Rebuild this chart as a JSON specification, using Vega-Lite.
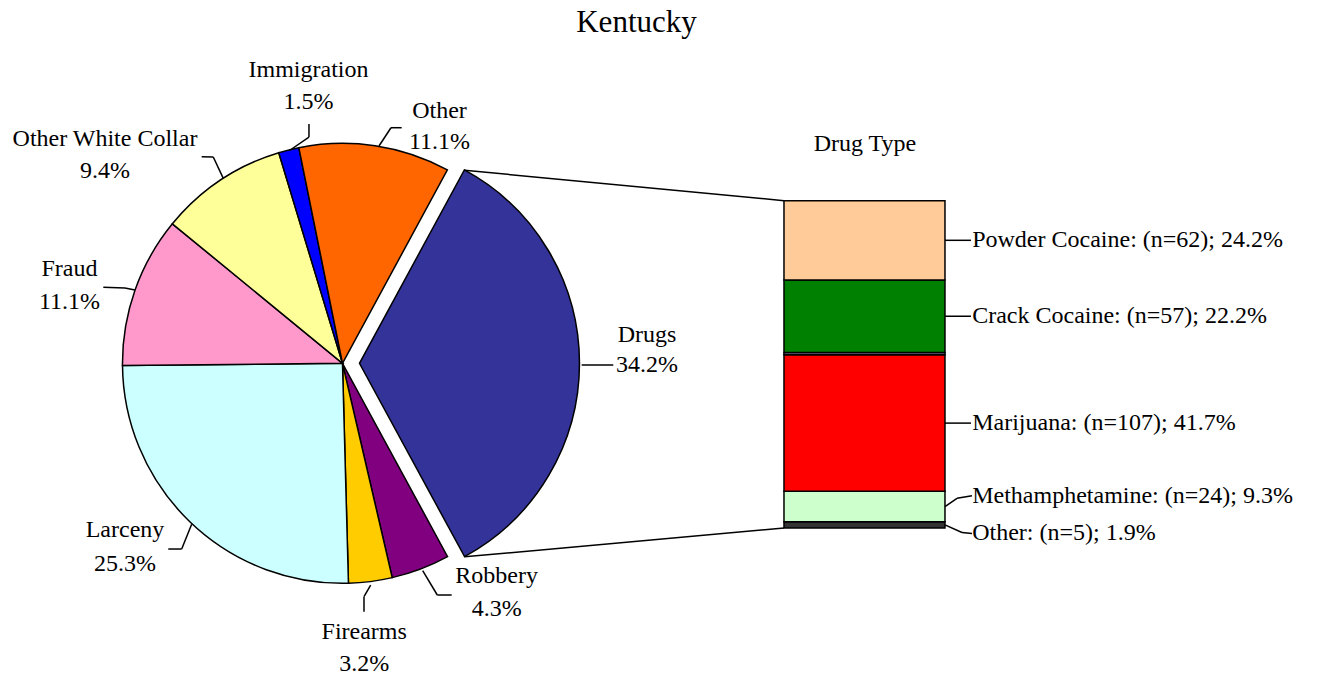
{
  "$schema": "https://vega.github.io/schema/vega-lite/v6.json",
  "width": 1320,
  "height": 675,
  "padding": 0,
  "autosize": {"type": "none"},
  "title": {"text": "Kentucky", "font": "Liberation Serif", "fontSize": 31, "fontWeight": "normal", "color": "black", "frame": "group", "anchor": "middle", "baseline": "alphabetic", "offset": -33.3, "dx": -23.5, "dy": 30},
  "config": {"view": {"stroke": null}, "font": "Liberation Serif", "text": {"font": "Liberation Serif", "fontSize": 24, "color": "black"}},
  "datasets": {
    "pie": [
      {"cat": "Drugs", "pct": 34.2, "ord": 1, "label": "Drugs\n34.2%"},
      {"cat": "Robbery", "pct": 4.3, "ord": 2, "label": "Robbery\n4.3%"},
      {"cat": "Firearms", "pct": 3.2, "ord": 3, "label": "Firearms\n3.2%"},
      {"cat": "Larceny", "pct": 25.3, "ord": 4, "label": "Larceny\n25.3%"},
      {"cat": "Fraud", "pct": 11.1, "ord": 5, "label": "Fraud\n11.1%"},
      {"cat": "Other White Collar", "pct": 9.4, "ord": 6, "label": "Other White Collar\n9.4%"},
      {"cat": "Immigration", "pct": 1.5, "ord": 7, "label": "Immigration\n1.5%"},
      {"cat": "Other", "pct": 11.1, "ord": 8, "label": "Other\n11.1%"}
    ],
    "drugs": [
      {"drug": "Other", "n": 5, "pct": 1.9, "ord": 1, "label": "Other: (n=5); 1.9%"},
      {"drug": "Methamphetamine", "n": 24, "pct": 9.3, "ord": 2, "label": "Methamphetamine: (n=24); 9.3%"},
      {"drug": "Marijuana", "n": 107, "pct": 41.7, "ord": 3, "label": "Marijuana: (n=107); 41.7%"},
      {"drug": "Heroin", "n": 2, "pct": 0.7, "ord": 4, "label": ""},
      {"drug": "Crack Cocaine", "n": 57, "pct": 22.2, "ord": 5, "label": "Crack Cocaine: (n=57); 22.2%"},
      {"drug": "Powder Cocaine", "n": 62, "pct": 24.2, "ord": 6, "label": "Powder Cocaine: (n=62); 24.2%"}
    ]
  },
  "resolve": {"scale": {"color": "independent"}},
  "layer": [
    {
      "data": {"name": "pie"},
      "mark": {"type": "arc", "radius": 220, "stroke": "black", "strokeWidth": 1.5},
      "encoding": {
        "x": {"datum": -134.89, "type": "quantitative", "axis": null, "scale": {"domain": [-239.53, 163.77], "nice": false, "zero": false}},
        "y": {"datum": 50.32, "type": "quantitative", "axis": null, "scale": {"domain": [-44.91, 161.32], "nice": false, "zero": false}},
        "theta": {"field": "pct", "type": "quantitative", "stack": "zero", "scale": {"range": [0.497, 6.7802]}},
        "order": {"field": "ord", "type": "quantitative"},
        "color": {"field": "cat", "type": "nominal", "legend": null, "scale": {"domain": ["Drugs", "Robbery", "Firearms", "Larceny", "Fraud", "Other White Collar", "Immigration", "Other"], "range": ["#333399", "#800080", "#FFCC00", "#CCFFFF", "#FF99CC", "#FFFF99", "#0000FF", "#FF6600"]}},
        "opacity": {"condition": {"test": "datum.cat === 'Drugs'", "value": 0}, "value": 1}
      }
    },
    {
      "data": {"name": "pie"},
      "mark": {"type": "arc", "radius": 220, "stroke": "black", "strokeWidth": 1.5},
      "encoding": {
        "x": {"datum": -129.70, "type": "quantitative", "axis": null},
        "y": {"datum": 50.32, "type": "quantitative", "axis": null},
        "theta": {"field": "pct", "type": "quantitative", "stack": "zero"},
        "order": {"field": "ord", "type": "quantitative"},
        "color": {"field": "cat", "type": "nominal", "legend": null, "scale": {"domain": ["Drugs", "Robbery", "Firearms", "Larceny", "Fraud", "Other White Collar", "Immigration", "Other"], "range": ["#333399", "#800080", "#FFCC00", "#CCFFFF", "#FF99CC", "#FFFF99", "#0000FF", "#FF6600"]}},
        "opacity": {"condition": {"test": "datum.cat === 'Drugs'", "value": 1}, "value": 0}
      }
    },
    {
      "data": {"name": "drugs"},
      "transform": [{"stack": "pct", "groupby": [], "sort": [{"field": "ord", "order": "ascending"}], "as": ["p0", "p1"]}],
      "mark": {"type": "bar", "stroke": "black", "strokeWidth": 1.5},
      "encoding": {
        "x": {"datum": 0, "type": "quantitative", "axis": null},
        "x2": {"datum": 49.19},
        "y": {"field": "p0", "type": "quantitative", "axis": null, "stack": null},
        "y2": {"field": "p1"},
        "color": {"field": "drug", "type": "nominal", "legend": null, "scale": {"domain": ["Other", "Methamphetamine", "Marijuana", "Heroin", "Crack Cocaine", "Powder Cocaine"], "range": ["#333333", "#CCFFCC", "#FF0000", "#8080A0", "#008000", "#FFCC99"]}}
      }
    },
    {
      "data": {"name": "drugs"},
      "mark": {"type": "text", "align": "left", "baseline": "middle", "fontSize": 24},
      "encoding": {
        "x": {"datum": 57.5, "type": "quantitative", "axis": null},
        "y": {"field": "pct", "type": "quantitative", "axis": null, "stack": "zero", "bandPosition": 0.5},
        "detail": {"field": "drug"},
        "order": {"field": "ord", "type": "quantitative"},
        "text": {"condition": {"test": "indexof(['Powder Cocaine','Crack Cocaine','Marijuana'], datum.drug) >= 0", "field": "label"}, "value": ""}
      }
    },
    {
      "data": {"name": "drugs"},
      "mark": {"type": "text", "align": "left", "baseline": "middle", "fontSize": 24, "dy": -10.9},
      "encoding": {
        "x": {"datum": 57.5, "type": "quantitative", "axis": null},
        "y": {"field": "pct", "type": "quantitative", "axis": null, "stack": "zero", "bandPosition": 0.5},
        "detail": {"field": "drug"},
        "order": {"field": "ord", "type": "quantitative"},
        "text": {"condition": {"test": "datum.drug === 'Methamphetamine'", "field": "label"}, "value": ""}
      }
    },
    {
      "data": {"name": "drugs"},
      "mark": {"type": "text", "align": "left", "baseline": "middle", "fontSize": 24, "dy": 8.6},
      "encoding": {
        "x": {"datum": 57.5, "type": "quantitative", "axis": null},
        "y": {"field": "pct", "type": "quantitative", "axis": null, "stack": "zero", "bandPosition": 0.5},
        "detail": {"field": "drug"},
        "order": {"field": "ord", "type": "quantitative"},
        "text": {"condition": {"test": "datum.drug === 'Other'", "field": "label"}, "value": ""}
      }
    },
    {
      "data": {"values": [{}]},
      "mark": {"type": "text", "align": "center", "baseline": "alphabetic", "fontSize": 24},
      "encoding": {
        "x": {"datum": 24.75, "type": "quantitative", "axis": null},
        "y": {"datum": 115.28, "type": "quantitative", "axis": null},
        "text": {"value": "Drug Type"}
      }
    },
    {"data": {"name": "pie"}, "transform": [{"filter": "datum.cat === 'Immigration'"}], "mark": {"type": "text", "align": "center", "baseline": "alphabetic", "fontSize": 24, "lineBreak": "\n", "lineHeight": 32.6}, "encoding": {"x": {"datum": -145.28, "type": "quantitative", "axis": null}, "y": {"datum": 137.89, "type": "quantitative", "axis": null}, "text": {"field": "label"}}},
    {"data": {"name": "pie"}, "transform": [{"filter": "datum.cat === 'Other'"}], "mark": {"type": "text", "align": "center", "baseline": "alphabetic", "fontSize": 24, "lineBreak": "\n", "lineHeight": 31}, "encoding": {"x": {"datum": -105.26, "type": "quantitative", "axis": null}, "y": {"datum": 125.18, "type": "quantitative", "axis": null}, "text": {"field": "label"}}},
    {"data": {"name": "pie"}, "transform": [{"filter": "datum.cat === 'Other White Collar'"}], "mark": {"type": "text", "align": "center", "baseline": "alphabetic", "fontSize": 24, "lineBreak": "\n", "lineHeight": 32.6}, "encoding": {"x": {"datum": -207.45, "type": "quantitative", "axis": null}, "y": {"datum": 116.80, "type": "quantitative", "axis": null}, "text": {"field": "label"}}},
    {"data": {"name": "pie"}, "transform": [{"filter": "datum.cat === 'Fraud'"}], "mark": {"type": "text", "align": "center", "baseline": "alphabetic", "fontSize": 24, "lineBreak": "\n", "lineHeight": 33}, "encoding": {"x": {"datum": -218.30, "type": "quantitative", "axis": null}, "y": {"datum": 76.99, "type": "quantitative", "axis": null}, "text": {"field": "label"}}},
    {"data": {"name": "pie"}, "transform": [{"filter": "datum.cat === 'Larceny'"}], "mark": {"type": "text", "align": "center", "baseline": "alphabetic", "fontSize": 24, "lineBreak": "\n", "lineHeight": 33.4}, "encoding": {"x": {"datum": -201.34, "type": "quantitative", "axis": null}, "y": {"datum": -2.84, "type": "quantitative", "axis": null}, "text": {"field": "label"}}},
    {"data": {"name": "pie"}, "transform": [{"filter": "datum.cat === 'Firearms'"}], "mark": {"type": "text", "align": "center", "baseline": "alphabetic", "fontSize": 24, "lineBreak": "\n", "lineHeight": 31.7}, "encoding": {"x": {"datum": -128.26, "type": "quantitative", "axis": null}, "y": {"datum": -33.91, "type": "quantitative", "axis": null}, "text": {"field": "label"}}},
    {"data": {"name": "pie"}, "transform": [{"filter": "datum.cat === 'Robbery'"}], "mark": {"type": "text", "align": "center", "baseline": "alphabetic", "fontSize": 24, "lineBreak": "\n", "lineHeight": 32.7}, "encoding": {"x": {"datum": -87.78, "type": "quantitative", "axis": null}, "y": {"datum": -16.90, "type": "quantitative", "axis": null}, "text": {"field": "label"}}},
    {"data": {"name": "pie"}, "transform": [{"filter": "datum.cat === 'Drugs'"}], "mark": {"type": "text", "align": "center", "baseline": "alphabetic", "fontSize": 24, "lineBreak": "\n", "lineHeight": 30}, "encoding": {"x": {"datum": -41.86, "type": "quantitative", "axis": null}, "y": {"datum": 56.92, "type": "quantitative", "axis": null}, "text": {"field": "label"}}},
    {"data": {"values": [{}]}, "mark": {"type": "rule", "color": "black", "strokeWidth": 1.5}, "encoding": {"x": {"datum": -145.13, "type": "quantitative", "axis": null}, "y": {"datum": 123.43, "type": "quantitative", "axis": null}, "x2": {"datum": -145.13}, "y2": {"datum": 119.46}}},
    {"data": {"values": [{}]}, "mark": {"type": "rule", "color": "black", "strokeWidth": 1.5}, "encoding": {"x": {"datum": -145.13, "type": "quantitative", "axis": null}, "y": {"datum": 119.46, "type": "quantitative", "axis": null}, "x2": {"datum": -151.08}, "y2": {"datum": 115.34}}},
    {"data": {"values": [{}]}, "mark": {"type": "rule", "color": "black", "strokeWidth": 1.5}, "encoding": {"x": {"datum": -116.80, "type": "quantitative", "axis": null}, "y": {"datum": 122.30, "type": "quantitative", "axis": null}, "x2": {"datum": -120.07}, "y2": {"datum": 122.30}}},
    {"data": {"values": [{}]}, "mark": {"type": "rule", "color": "black", "strokeWidth": 1.5}, "encoding": {"x": {"datum": -120.07, "type": "quantitative", "axis": null}, "y": {"datum": 122.30, "type": "quantitative", "axis": null}, "x2": {"datum": -123.74}, "y2": {"datum": 116.71}}},
    {"data": {"values": [{}]}, "mark": {"type": "rule", "color": "black", "strokeWidth": 1.5}, "encoding": {"x": {"datum": -177.91, "type": "quantitative", "axis": null}, "y": {"datum": 113.44, "type": "quantitative", "axis": null}, "x2": {"datum": -174.37}, "y2": {"datum": 113.35}}},
    {"data": {"values": [{}]}, "mark": {"type": "rule", "color": "black", "strokeWidth": 1.5}, "encoding": {"x": {"datum": -174.37, "type": "quantitative", "axis": null}, "y": {"datum": 113.35, "type": "quantitative", "axis": null}, "x2": {"datum": -171.31}, "y2": {"datum": 106.84}}},
    {"data": {"values": [{}]}, "mark": {"type": "rule", "color": "black", "strokeWidth": 1.5}, "encoding": {"x": {"datum": -207.97, "type": "quantitative", "axis": null}, "y": {"datum": 73.54, "type": "quantitative", "axis": null}, "x2": {"datum": -201.34}, "y2": {"datum": 73.33}}},
    {"data": {"values": [{}]}, "mark": {"type": "rule", "color": "black", "strokeWidth": 1.5}, "encoding": {"x": {"datum": -201.34, "type": "quantitative", "axis": null}, "y": {"datum": 73.33, "type": "quantitative", "axis": null}, "x2": {"datum": -198.29}, "y2": {"datum": 72.72}}},
    {"data": {"values": [{}]}, "mark": {"type": "rule", "color": "black", "strokeWidth": 1.5}, "encoding": {"x": {"datum": -188.12, "type": "quantitative", "axis": null}, "y": {"datum": -6.42, "type": "quantitative", "axis": null}, "x2": {"datum": -184.02}, "y2": {"datum": -6.42}}},
    {"data": {"values": [{}]}, "mark": {"type": "rule", "color": "black", "strokeWidth": 1.5}, "encoding": {"x": {"datum": -184.02, "type": "quantitative", "axis": null}, "y": {"datum": -6.42, "type": "quantitative", "axis": null}, "x2": {"datum": -180.97}, "y2": {"datum": 1.13}}},
    {"data": {"values": [{}]}, "mark": {"type": "rule", "color": "black", "strokeWidth": 1.5}, "encoding": {"x": {"datum": -128.32, "type": "quantitative", "axis": null}, "y": {"datum": -25.57, "type": "quantitative", "axis": null}, "x2": {"datum": -128.32}, "y2": {"datum": -20.99}}},
    {"data": {"values": [{}]}, "mark": {"type": "rule", "color": "black", "strokeWidth": 1.5}, "encoding": {"x": {"datum": -128.32, "type": "quantitative", "axis": null}, "y": {"datum": -20.99, "type": "quantitative", "axis": null}, "x2": {"datum": -126.28}, "y2": {"datum": -17.42}}},
    {"data": {"values": [{}]}, "mark": {"type": "rule", "color": "black", "strokeWidth": 1.5}, "encoding": {"x": {"datum": -101.53, "type": "quantitative", "axis": null}, "y": {"datum": -20.47, "type": "quantitative", "axis": null}, "x2": {"datum": -105.93}, "y2": {"datum": -20.47}}},
    {"data": {"values": [{}]}, "mark": {"type": "rule", "color": "black", "strokeWidth": 1.5}, "encoding": {"x": {"datum": -105.93, "type": "quantitative", "axis": null}, "y": {"datum": -20.47, "type": "quantitative", "axis": null}, "x2": {"datum": -110.39}, "y2": {"datum": -13.05}}},
    {"data": {"values": [{}]}, "mark": {"type": "rule", "color": "black", "strokeWidth": 1.5}, "encoding": {"x": {"datum": -61.81, "type": "quantitative", "axis": null}, "y": {"datum": 49.80, "type": "quantitative", "axis": null}, "x2": {"datum": -52.15}, "y2": {"datum": 49.80}}},
    {"data": {"values": [{}]}, "mark": {"type": "rule", "color": "black", "strokeWidth": 1.5}, "encoding": {"x": {"datum": -97.6, "type": "quantitative", "axis": null}, "y": {"datum": 109.3, "type": "quantitative", "axis": null}, "x2": {"datum": 0}, "y2": {"datum": 100}}},
    {"data": {"values": [{}]}, "mark": {"type": "rule", "color": "black", "strokeWidth": 1.5}, "encoding": {"x": {"datum": -97.6, "type": "quantitative", "axis": null}, "y": {"datum": -8.8, "type": "quantitative", "axis": null}, "x2": {"datum": 0}, "y2": {"datum": 0}}},
    {"data": {"values": [{}]}, "mark": {"type": "rule", "color": "black", "strokeWidth": 1.5}, "encoding": {"x": {"datum": 49.19, "type": "quantitative", "axis": null}, "y": {"datum": 87.9, "type": "quantitative", "axis": null}, "x2": {"datum": 57.13}, "y2": {"datum": 87.9}}},
    {"data": {"values": [{}]}, "mark": {"type": "rule", "color": "black", "strokeWidth": 1.5}, "encoding": {"x": {"datum": 49.19, "type": "quantitative", "axis": null}, "y": {"datum": 64.7, "type": "quantitative", "axis": null}, "x2": {"datum": 57.13}, "y2": {"datum": 64.7}}},
    {"data": {"values": [{}]}, "mark": {"type": "rule", "color": "black", "strokeWidth": 1.5}, "encoding": {"x": {"datum": 49.19, "type": "quantitative", "axis": null}, "y": {"datum": 32.05, "type": "quantitative", "axis": null}, "x2": {"datum": 57.13}, "y2": {"datum": 32.05}}},
    {"data": {"values": [{}]}, "mark": {"type": "rule", "color": "black", "strokeWidth": 1.5}, "encoding": {"x": {"datum": 49.19, "type": "quantitative", "axis": null}, "y": {"datum": 6.55, "type": "quantitative", "axis": null}, "x2": {"datum": 52.86}, "y2": {"datum": 9.07}}},
    {"data": {"values": [{}]}, "mark": {"type": "rule", "color": "black", "strokeWidth": 1.5}, "encoding": {"x": {"datum": 52.86, "type": "quantitative", "axis": null}, "y": {"datum": 9.07, "type": "quantitative", "axis": null}, "x2": {"datum": 57.44}, "y2": {"datum": 9.87}}},
    {"data": {"values": [{}]}, "mark": {"type": "rule", "color": "black", "strokeWidth": 1.5}, "encoding": {"x": {"datum": 49.19, "type": "quantitative", "axis": null}, "y": {"datum": 0.95, "type": "quantitative", "axis": null}, "x2": {"datum": 54.38}, "y2": {"datum": -1.37}}},
    {"data": {"values": [{}]}, "mark": {"type": "rule", "color": "black", "strokeWidth": 1.5}, "encoding": {"x": {"datum": 54.38, "type": "quantitative", "axis": null}, "y": {"datum": -1.37, "type": "quantitative", "axis": null}, "x2": {"datum": 57.44}, "y2": {"datum": -1.68}}}
  ]
}
